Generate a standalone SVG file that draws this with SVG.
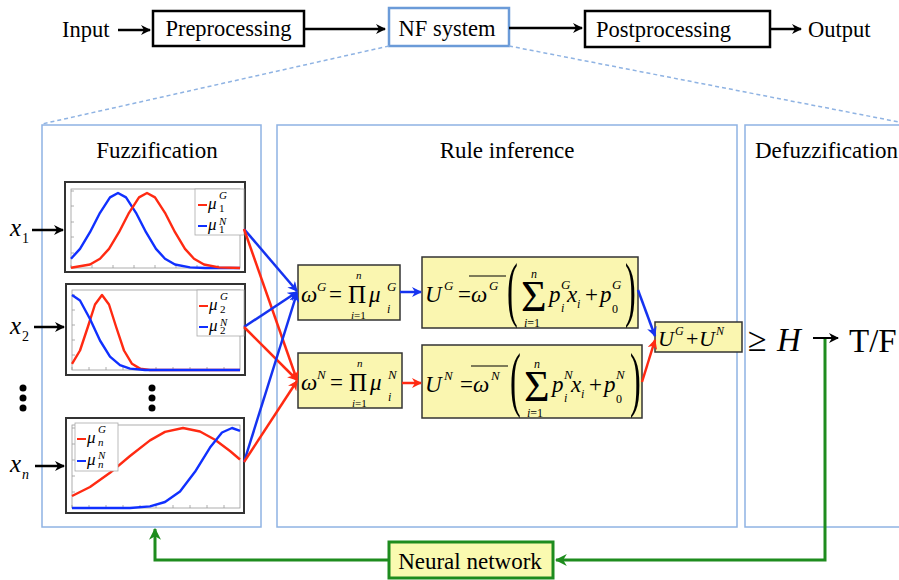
<svg xmlns="http://www.w3.org/2000/svg" width="899" height="580" viewBox="0 0 899 580">
<style>
text{font-family:"Liberation Serif","Times New Roman",serif;fill:#000}
.it{font-style:italic}
.lbl{font-size:22.5px}
.ttl{font-size:23px}
.panel{fill:#fff;stroke:#8fb3e3;stroke-width:1.5}
.blk{fill:#fff;stroke:#000;stroke-width:2.5}
.ybox{fill:#faf6b0;stroke:#333;stroke-width:1.5}
.frame{fill:#fff;stroke:#333;stroke-width:2}
.axes{fill:none;stroke:#999;stroke-width:0.8}
.leg{fill:#fff;stroke:#aaa;stroke-width:0.8}
.cr{fill:none;stroke:#ff2a12;stroke-width:2.4;stroke-linejoin:round}
.cb{fill:none;stroke:#1030ff;stroke-width:2.4;stroke-linejoin:round}
.k{fill:none;stroke:#000;stroke-width:2.5}
.r{fill:none;stroke:#ff2a12;stroke-width:2.5}
.b{fill:none;stroke:#1533f0;stroke-width:2.5}
.g{fill:none;stroke:#1e8c1e;stroke-width:3}
.e{font-size:23px}
.s{font-size:13px}
.t{font-size:12px}
.u{font-size:11px}
.n{font-style:normal}
.lm{font-size:17px}
.ls{font-size:11px}
.par{font-size:72px}
</style>
<defs>
<marker id="ak" viewBox="0 0 10 10" refX="9" refY="5" markerWidth="10" markerHeight="10" markerUnits="userSpaceOnUse" orient="auto"><path d="M0,0 L10,5 L0,10 L3,5 Z" fill="#000"/></marker>
<marker id="ab" viewBox="0 0 10 10" refX="9" refY="5" markerWidth="10" markerHeight="10" markerUnits="userSpaceOnUse" orient="auto"><path d="M0,0 L10,5 L0,10 L3,5 Z" fill="#1533f0"/></marker>
<marker id="ar" viewBox="0 0 10 10" refX="9" refY="5" markerWidth="10" markerHeight="10" markerUnits="userSpaceOnUse" orient="auto"><path d="M0,0 L10,5 L0,10 L3,5 Z" fill="#ff2a12"/></marker>
<marker id="ag" viewBox="0 0 10 10" refX="9" refY="5" markerWidth="12" markerHeight="12" markerUnits="userSpaceOnUse" orient="auto"><path d="M0,0 L10,5 L0,10 L3,5 Z" fill="#1e8c1e"/></marker>
</defs>
<rect width="899" height="580" fill="#fff"/>

<!-- top pipeline -->
<g id="input"><text class="lbl" x="62" y="37">Input</text></g>
<g id="preprocessing"><rect class="blk" x="153" y="11" width="151" height="35"/><text class="lbl" x="228.5" y="36" text-anchor="middle">Preprocessing</text></g>
<g id="nfsystem"><rect x="389" y="8" width="120" height="38" fill="#fff" stroke="#6b9bd8" stroke-width="2.5"/><text class="lbl" x="447" y="36" text-anchor="middle">NF system</text></g>
<g id="postprocessing"><rect class="blk" x="585" y="11" width="185" height="36"/><text class="lbl" x="596" y="37">Postprocessing</text></g>
<g id="output"><text class="lbl" x="808" y="37">Output</text></g>

<!-- panels -->
<g id="fuzzification"><rect class="panel" x="42" y="125" width="219" height="402"/><text class="ttl" x="157" y="158" text-anchor="middle">Fuzzification</text></g>
<g id="ruleinference"><rect class="panel" x="277" y="125" width="460" height="402"/><text class="ttl" x="507" y="158" text-anchor="middle">Rule inference</text></g>
<g id="defuzzification"><rect class="panel" x="745" y="125" width="160" height="402"/><text class="ttl" x="755" y="158">Defuzzification</text></g>

<!-- plot 1 -->
<g id="plot1">
<rect class="frame" x="65" y="182" width="180" height="90"/>
<rect class="axes" x="71" y="189" width="169" height="79"/>
<path class="axes" d="M71,268 v-3 M92,268 v-3 M113,268 v-3 M134,268 v-3 M155,268 v-3 M176,268 v-3 M197,268 v-3 M218,268 v-3 M71,253 h3 M71,237 h3 M71,222 h3 M71,206 h3 M71,191 h3"/>
<polyline class="cb" points="71,258.7 80,248.9 90,232.2 100,212.8 110,197.4 118,193 126,197.4 136,212.8 146,232.2 156,248.9 165,258.7 175,264.5 190,267.4 205,268 240,268"/>
<polyline class="cr" points="71,267.7 90,264.5 100,258.7 109,248.9 119,232.2 129,212.8 139,197.4 147,193 155,197.4 165,212.8 175,232.2 185,248.9 194,258.7 204,264.5 219,267.4 240,268"/>
<rect class="leg" x="195" y="189" width="49" height="46"/>
<line x1="198" y1="205" x2="207" y2="205" stroke="#ff2a12" stroke-width="2"/>
<line x1="198" y1="226" x2="207" y2="226" stroke="#1030ff" stroke-width="2"/>
<text class="it"><tspan class="lm" x="208" y="209">μ</tspan><tspan class="ls" x="219" y="199">G</tspan><tspan class="ls n" x="219" y="212">1</tspan></text>
<text class="it"><tspan class="lm" x="208" y="230">μ</tspan><tspan class="ls" x="219" y="225">N</tspan><tspan class="ls n" x="219" y="233">1</tspan></text>
</g>

<!-- plot 2 -->
<g id="plot2">
<rect class="frame" x="66" y="284" width="179" height="91"/>
<rect class="axes" x="72" y="290" width="168" height="80"/>
<path class="axes" d="M72,370 v-3 M89,370 v-3 M106,370 v-3 M123,370 v-3 M140,370 v-3 M156,370 v-3 M173,370 v-3 M190,370 v-3 M207,370 v-3 M224,370 v-3 M72,355 h3 M72,340 h3 M72,325 h3 M72,310 h3 M72,295 h3"/>
<polyline class="cr" points="72,363.8 80,350.5 88,326.5 95,304.5 102,295 109,304.5 116,326.5 124,350.5 132,363.8 140,368.6 150,370 240,370"/>
<polyline class="cb" points="72,295 80,300.5 90,319 100,340.5 110,356.6 120,365.2 130,368.6 145,370 240,370"/>
<rect class="leg" x="197" y="290" width="47" height="46"/>
<line x1="199" y1="306" x2="208" y2="306" stroke="#ff2a12" stroke-width="2"/>
<line x1="199" y1="327" x2="208" y2="327" stroke="#1030ff" stroke-width="2"/>
<text class="it"><tspan class="lm" x="209" y="310">μ</tspan><tspan class="ls" x="220" y="300">G</tspan><tspan class="ls n" x="220" y="313">2</tspan></text>
<text class="it"><tspan class="lm" x="209" y="331">μ</tspan><tspan class="ls" x="220" y="326">N</tspan><tspan class="ls n" x="220" y="334">2</tspan></text>
</g>

<!-- plot n -->
<g id="plotn">
<rect class="frame" x="66" y="418" width="178" height="95"/>
<rect class="axes" x="72" y="425" width="168" height="83"/>
<path class="axes" d="M72,508 v-3 M89,508 v-3 M106,508 v-3 M123,508 v-3 M140,508 v-3 M156,508 v-3 M173,508 v-3 M190,508 v-3 M207,508 v-3 M224,508 v-3 M72,492 h3 M72,476 h3 M72,460 h3 M72,444 h3 M72,428 h3"/>
<polyline class="cr" points="72,496 90,487 110,472.8 130,456 150,440.4 165,431.9 183,428 200,431.5 215,439.7 230,451 240,459.5"/>
<polyline class="cb" points="72,508 130,508 150,506.4 165,502 180,491.4 195,471.8 210,447.6 222,432.5 232,428 240,430.9"/>
<rect class="leg" x="75" y="423" width="43" height="48"/>
<line x1="77" y1="439" x2="86" y2="439" stroke="#ff2a12" stroke-width="2"/>
<line x1="77" y1="461" x2="86" y2="461" stroke="#1030ff" stroke-width="2"/>
<text class="it"><tspan class="lm" x="87" y="443">μ</tspan><tspan class="ls" x="98" y="433">G</tspan><tspan class="ls" x="98" y="446">n</tspan></text>
<text class="it"><tspan class="lm" x="87" y="465">μ</tspan><tspan class="ls" x="98" y="459">N</tspan><tspan class="ls" x="98" y="468">n</tspan></text>
</g>

<!-- input labels -->
<g id="x1"><text class="it"><tspan font-size="25" x="10" y="236">x</tspan><tspan class="n" font-size="14" x="22" y="243">1</tspan></text></g>
<g id="x2"><text class="it"><tspan font-size="25" x="10" y="334">x</tspan><tspan class="n" font-size="14" x="22" y="341">2</tspan></text></g>
<g id="xn"><text class="it"><tspan font-size="25" x="10" y="472">x</tspan><tspan font-size="14" x="22" y="479">n</tspan></text></g>
<g id="dots-left"><circle cx="23" cy="388" r="3.5"/><circle cx="23" cy="398" r="3.5"/><circle cx="23" cy="408" r="3.5"/></g>
<g id="dots-mid"><circle cx="152" cy="388" r="3.5"/><circle cx="152" cy="398" r="3.5"/><circle cx="152" cy="408" r="3.5"/></g>

<!-- omega G -->
<g id="omegaG">
<rect class="ybox" x="298" y="265" width="102" height="55"/>
<text class="it"><tspan class="e" x="301" y="302">ω</tspan><tspan class="s" x="317" y="291">G</tspan><tspan class="e n" x="329" y="302">=</tspan><tspan class="u" x="356" y="279">n</tspan><tspan class="n" font-size="25" x="348" y="303">Π</tspan><tspan class="u" x="351" y="319">i</tspan><tspan class="u n">=1</tspan><tspan class="e" x="369" y="302">μ</tspan><tspan class="s" x="387" y="291">G</tspan><tspan class="t" x="387" y="313">i</tspan></text>
</g>
<!-- omega N -->
<g id="omegaN">
<rect class="ybox" x="298" y="353" width="104" height="55"/>
<text class="it"><tspan class="e" x="301" y="390">ω</tspan><tspan class="s" x="317" y="379">N</tspan><tspan class="e n" x="330" y="390">=</tspan><tspan class="u" x="357" y="367">n</tspan><tspan class="n" font-size="25" x="349" y="391">Π</tspan><tspan class="u" x="352" y="407">i</tspan><tspan class="u n">=1</tspan><tspan class="e" x="370" y="390">μ</tspan><tspan class="s" x="388" y="379">N</tspan><tspan class="t" x="388" y="401">i</tspan></text>
</g>

<!-- U G -->
<g id="UG">
<rect class="ybox" x="422" y="257" width="216" height="71"/>
<line x1="469" y1="276" x2="506" y2="276" stroke="#000" stroke-width="1.2"/>
<text class="it"><tspan class="e" x="425" y="302">U</tspan><tspan class="s" x="444" y="290">G</tspan><tspan class="e n" x="458" y="302">=</tspan><tspan class="e" x="471" y="302">ω</tspan><tspan class="s" x="489" y="290">G</tspan></text>
<text class="par" transform="translate(507,313) scale(0.45,1)">(</text>
<text class="it"><tspan class="t" x="531" y="278">n</tspan><tspan class="n" font-size="44" x="521" y="311">Σ</tspan><tspan class="t" x="524" y="327">i</tspan><tspan class="t n">=1</tspan><tspan class="e" x="549" y="302">p</tspan><tspan class="s" x="561" y="289">G</tspan><tspan class="t" x="561" y="312">i</tspan><tspan class="e" x="567" y="302">x</tspan><tspan class="t" x="577" y="308">i</tspan><tspan class="e n" x="585" y="302">+</tspan><tspan class="e" x="600" y="302">p</tspan><tspan class="s" x="612" y="289">G</tspan><tspan class="t n" x="612" y="313">0</tspan></text>
<text class="par" transform="translate(625,313) scale(0.45,1)">)</text>
</g>
<!-- U N -->
<g id="UN">
<rect class="ybox" x="422" y="345" width="220" height="73"/>
<line x1="471" y1="366" x2="508" y2="366" stroke="#000" stroke-width="1.2"/>
<text class="it"><tspan class="e" x="425" y="392">U</tspan><tspan class="s" x="444" y="380">N</tspan><tspan class="e n" x="460" y="392">=</tspan><tspan class="e" x="473" y="392">ω</tspan><tspan class="s" x="491" y="380">N</tspan></text>
<text class="par" transform="translate(510,403) scale(0.45,1)">(</text>
<text class="it"><tspan class="t" x="534" y="368">n</tspan><tspan class="n" font-size="44" x="524" y="401">Σ</tspan><tspan class="t" x="527" y="417">i</tspan><tspan class="t n">=1</tspan><tspan class="e" x="552" y="392">p</tspan><tspan class="s" x="564" y="379">N</tspan><tspan class="t" x="564" y="402">i</tspan><tspan class="e" x="571" y="392">x</tspan><tspan class="t" x="581" y="398">i</tspan><tspan class="e n" x="589" y="392">+</tspan><tspan class="e" x="604" y="392">p</tspan><tspan class="s" x="616" y="379">N</tspan><tspan class="t n" x="616" y="403">0</tspan></text>
<text class="par" transform="translate(630,403) scale(0.45,1)">)</text>
</g>

<!-- sum -->
<g id="sum">
<rect class="ybox" x="655" y="322" width="87" height="30"/>
<text class="it"><tspan font-size="22" x="658" y="346">U</tspan><tspan font-size="12" x="675" y="335">G</tspan><tspan class="n" font-size="22" x="686" y="346">+</tspan><tspan font-size="22" x="699" y="346">U</tspan><tspan font-size="12" x="716" y="335">N</tspan></text>
</g>
<g id="threshold"><text font-size="34" x="748" y="351">≥</text><text class="it" font-size="33" x="777" y="351">H</text></g>
<g id="tf"><text font-size="33" x="849" y="352">T/F</text></g>

<!-- neural network -->
<g id="neuralnetwork"><rect x="389" y="542" width="164" height="36" fill="#fafab0" stroke="#1e8c1e" stroke-width="3"/><text class="ttl" x="470" y="569" text-anchor="middle">Neural network</text></g>

<!-- connectors -->
<g id="connectors">
<path class="k" d="M118,30 H150" marker-end="url(#ak)"/>
<path class="k" d="M304,29 H385" marker-end="url(#ak)"/>
<path class="k" d="M509,28 H582" marker-end="url(#ak)"/>
<path class="k" d="M770,29 H801" marker-end="url(#ak)"/>
<path d="M389,46 L42,124 M509,46 L899,122" fill="none" stroke="#8fb3e3" stroke-width="1.5" stroke-dasharray="4,3"/>
<path class="k" d="M32,230 H63" marker-end="url(#ak)"/>
<path class="k" d="M34,327 H64" marker-end="url(#ak)"/>
<path class="k" d="M35,466 H64" marker-end="url(#ak)"/>
<path class="b" d="M244,229 L297,291" marker-end="url(#ab)"/>
<path class="r" d="M244,229 L297,380" marker-end="url(#ar)"/>
<path class="b" d="M244,327 L297,292" marker-end="url(#ab)"/>
<path class="r" d="M244,327 L297,380" marker-end="url(#ar)"/>
<path class="b" d="M244,462 L297,293" marker-end="url(#ab)"/>
<path class="r" d="M244,462 L297,381" marker-end="url(#ar)"/>
<path class="b" d="M400,292 H421" marker-end="url(#ab)"/>
<path class="r" d="M402,383 H421" marker-end="url(#ar)"/>
<path class="b" d="M638,290 L655,336" marker-end="url(#ab)"/>
<path class="r" d="M642,382 L655,340" marker-end="url(#ar)"/>
<path d="M813,338 H838" fill="none" stroke="#000" stroke-width="2" marker-end="url(#ak)"/>
<path class="g" d="M825,339 V560 H556" marker-end="url(#ag)"/>
<path class="g" d="M389,560 H155 V529" marker-end="url(#ag)"/>
</g>
</svg>
